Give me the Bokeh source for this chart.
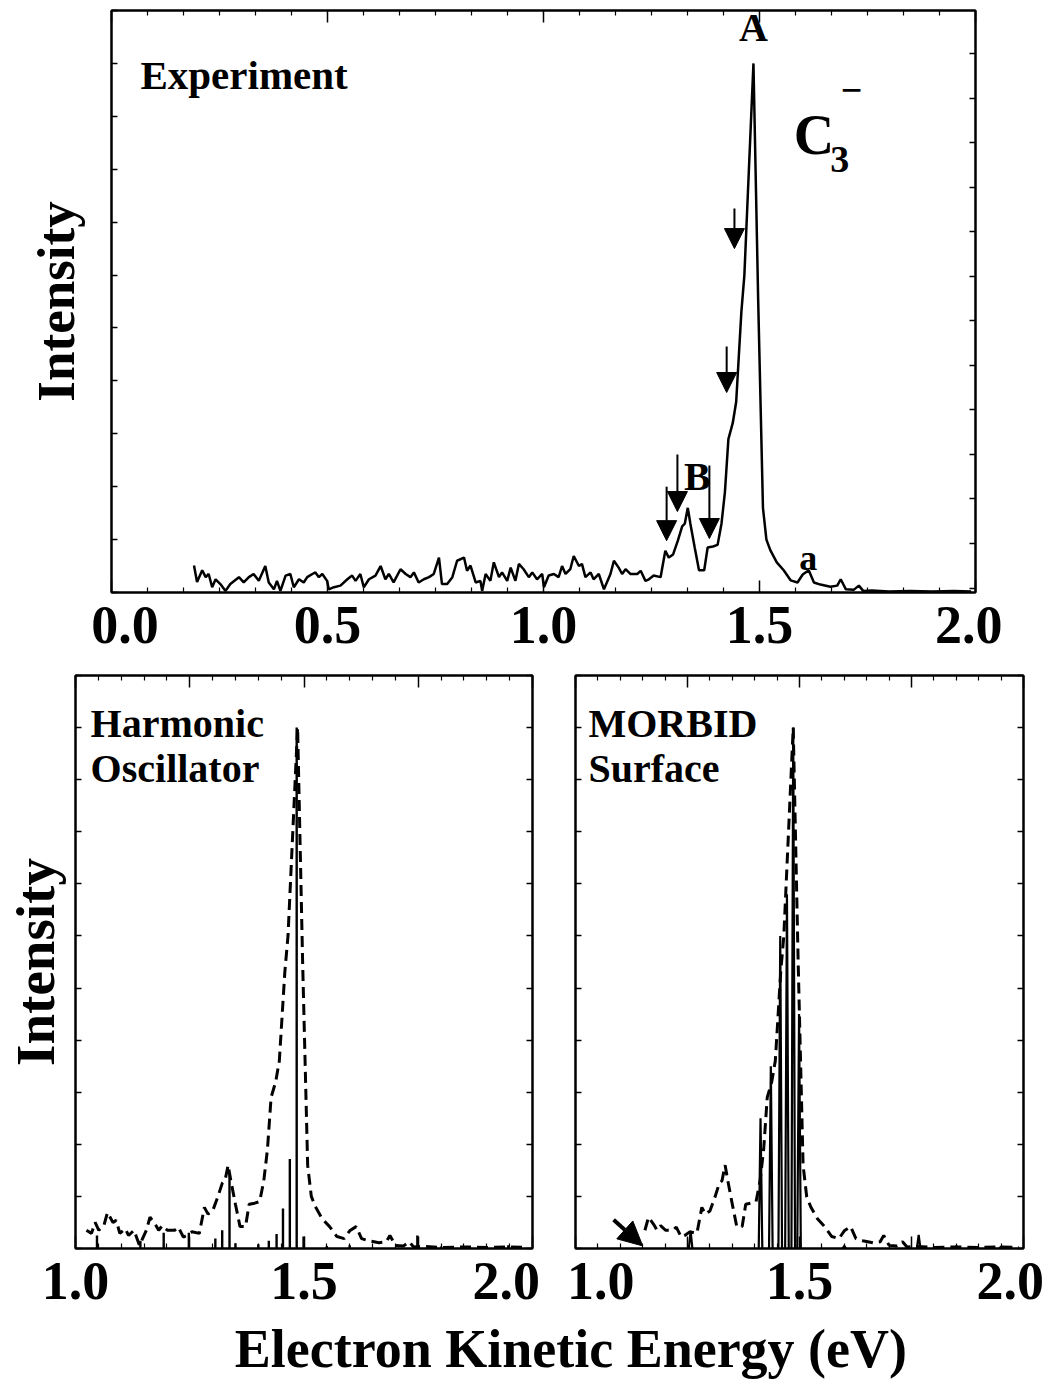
from bokeh.plotting import figure
from bokeh.models import (Range1d, LinearAxis, FixedTicker, Label, Arrow,
                          NormalHead)
from bokeh.layouts import column, row
from bokeh.embed import file_html
from bokeh.resources import INLINE

FONT = "Liberation Serif"

# ---------------- data ----------------
# experimental photoelectron spectrum of C3- (energy in eV, intensity arb.)
exp_e = [0.191, 0.198, 0.210, 0.218, 0.225, 0.233, 0.241, 0.252, 0.264, 0.275,
         0.295, 0.306, 0.318, 0.329, 0.341, 0.356, 0.364, 0.376, 0.383, 0.391,
         0.403, 0.414, 0.422, 0.434, 0.445, 0.453, 0.465, 0.472, 0.480, 0.488,
         0.499, 0.503, 0.515, 0.530, 0.546, 0.557, 0.565, 0.576, 0.584, 0.596,
         0.611, 0.623, 0.634, 0.642, 0.653, 0.669, 0.681, 0.692, 0.700, 0.711,
         0.723, 0.735, 0.746, 0.758, 0.765, 0.777, 0.789, 0.800, 0.816, 0.823,
         0.831, 0.843, 0.854, 0.858, 0.866, 0.877, 0.885, 0.897, 0.904, 0.916,
         0.924, 0.935, 0.943, 0.954, 0.966, 0.974, 0.985, 0.997, 1.001, 1.012,
         1.024, 1.035, 1.043, 1.051, 1.062, 1.070, 1.082, 1.089, 1.097, 1.109,
         1.116, 1.128, 1.140, 1.155, 1.163, 1.174, 1.182, 1.190, 1.201, 1.217,
         1.225, 1.236, 1.244, 1.255, 1.271,
         1.282, 1.290, 1.300, 1.311, 1.321, 1.327, 1.334, 1.340, 1.350, 1.360,
         1.372, 1.380, 1.392, 1.403, 1.412, 1.420, 1.428, 1.438, 1.446, 1.458,
         1.465, 1.486, 1.497, 1.508, 1.516, 1.525, 1.540, 1.556, 1.572, 1.588,
         1.600, 1.614, 1.626, 1.641, 1.664, 1.680, 1.688, 1.700, 1.718, 1.730,
         1.740, 1.760, 1.800, 1.850, 1.900, 1.950, 1.990]
exp_i = [0.51, 0.20, 0.42, 0.29, 0.35, 0.10, 0.25, 0.16, 0.03, 0.16,
         0.29, 0.19, 0.29, 0.35, 0.22, 0.50, 0.19, 0.06, 0.22, 0.03,
         0.32, 0.35, 0.10, 0.25, 0.19, 0.29, 0.35, 0.38, 0.29, 0.35,
         0.22, 0.06, 0.10, 0.13, 0.25, 0.32, 0.22, 0.35, 0.10, 0.25,
         0.32, 0.50, 0.25, 0.35, 0.19, 0.44, 0.35, 0.29, 0.38, 0.19,
         0.25, 0.29, 0.35, 0.66, 0.16, 0.16, 0.29, 0.60, 0.66, 0.41,
         0.51, 0.19, 0.22, 0.03, 0.35, 0.22, 0.57, 0.29, 0.38, 0.22,
         0.47, 0.22, 0.54, 0.44, 0.29, 0.38, 0.25, 0.35, 0.10, 0.32,
         0.35, 0.29, 0.50, 0.35, 0.44, 0.69, 0.50, 0.54, 0.29, 0.38,
         0.25, 0.35, 0.06, 0.35, 0.60, 0.47, 0.35, 0.44, 0.35, 0.35,
         0.41, 0.22, 0.25, 0.32, 0.29,
         0.79, 0.66, 0.72, 0.98, 1.25, 1.30, 1.60, 1.30, 0.85, 0.42,
         0.42, 0.85, 0.87, 0.90, 1.30, 1.90, 2.90, 3.20, 3.60, 5.30,
         6.00, 10.0, 5.50, 1.60, 1.00, 0.80, 0.57, 0.42, 0.23, 0.19,
         0.34, 0.42, 0.19, 0.15, 0.11, 0.13, 0.25, 0.06, 0.05, 0.13,
         0.03, 0.04, 0.02, 0.03, 0.02, 0.03, 0.02]

# harmonic-oscillator stick spectrum
ho_e = [1.047, 1.142, 1.193, 1.248, 1.306, 1.321, 1.337, 1.350, 1.400, 1.423,
        1.440, 1.454, 1.469, 1.484, 1.499, 1.550, 1.600, 1.748, 1.800, 1.850, 1.947]
ho_i = [0.25, 0.15, 0.30, 0.30, 0.19, 0.35, 1.45, 0.10, 0.08, 0.15,
        0.28, 0.77, 1.72, 10.0, 0.23, 0.05, 0.06, 0.25, 0.04, 0.04, 0.06]

# MORBID-surface stick spectrum
mb_e = [1.257, 1.413, 1.436, 1.457, 1.472, 1.486, 1.499, 1.600, 1.766, 1.850, 1.950]
mb_i = [0.33, 2.50, 3.50, 6.00, 6.80, 10.0, 4.50, 0.05, 0.26, 0.05, 0.04]

# arrows marking features in the experimental spectrum
arr_e = [1.442, 1.424, 1.285, 1.310, 1.384]
arr_top = [7.26, 4.65, 2.00, 2.61, 2.40]
arr_tip = [6.50, 3.78, 0.98, 1.53, 1.02]

top_ticks = [0.0, 0.5, 1.0, 1.5, 2.0]
top_tick_labels = ["\u20020.0", "0.5", "1.0", "1.5", "2.0 "]
bot_ticks = [1.0, 1.25, 1.5, 1.75, 2.0]
bl_tick_labels = ["1.0", "", "1.5", "", "2.0\u00a0"]
br_tick_labels = ["\u00a01.0", "", "1.5", "", "2.0 "]


def minor_between(ticks, n):
    out = []
    for a, b in zip(ticks[:-1], ticks[1:]):
        for k in range(1, n):
            out.append(a + (b - a) * k / n)
    return out


def setup_axes(p, xticks, xlabels, nminor, ytop, ylabel=None, ysize="53px",
               ystandoff=20, right_range=None):
    xt = FixedTicker(ticks=xticks, minor_ticks=minor_between(xticks, nminor))
    yt = FixedTicker(ticks=list(range(0, ytop + 1)))
    bx = LinearAxis(ticker=xt)
    bx.major_label_overrides = {t: l for t, l in zip(xticks, xlabels)}
    bx.major_label_text_font = FONT
    bx.major_label_text_font_style = "bold"
    bx.major_label_text_font_size = "54px"
    bx.major_label_text_color = "black"
    bx.major_label_standoff = 2
    ax = LinearAxis(ticker=xt)
    ly = LinearAxis(ticker=yt)
    if right_range is not None:
        p.extra_y_ranges = {"r": right_range}
        ry = LinearAxis(y_range_name="r",
                        ticker=FixedTicker(ticks=list(range(0, 14))))
    else:
        ry = LinearAxis(ticker=yt)
    for a in (ax, ly, ry):
        a.major_label_text_font_size = "1px"
        a.major_label_text_color = None
        a.major_label_standoff = 0
    if ylabel:
        ly.axis_label = ylabel
        ly.axis_label_text_font = FONT
        ly.axis_label_text_font_style = "bold"
        ly.axis_label_text_font_size = ysize
        ly.axis_label_text_color = "black"
        ly.axis_label_standoff = ystandoff
    for a in (bx, ax):
        a.major_tick_in = 12
        a.major_tick_out = 0
        a.minor_tick_in = 5
        a.minor_tick_out = 0
    for a in (ly, ry):
        a.major_tick_in = 6
        a.major_tick_out = 0
        a.minor_tick_line_color = None
    for a in (bx, ax, ly, ry):
        a.axis_line_width = 2
        a.axis_line_color = "black"
        a.major_tick_line_width = 1.5
        a.minor_tick_line_width = 1.2
    p.add_layout(bx, "below")
    p.add_layout(ax, "above")
    p.add_layout(ly, "left")
    p.add_layout(ry, "right")
    p.xgrid.visible = False
    p.ygrid.visible = False
    p.outline_line_color = "black"
    p.outline_line_width = 2


def add_text(p, x, y, text, size, align="left", baseline="alphabetic"):
    p.add_layout(Label(x=x, y=y, text=text, text_font=FONT,
                       text_font_style="bold", text_font_size=size,
                       text_align=align, text_baseline=baseline,
                       text_color="black"))


# ---------------- top panel ----------------
top = figure(width=1057, height=660,
             x_range=Range1d(0, 2.0), y_range=Range1d(0, 11),
             x_axis_location=None, y_axis_location=None, title=None,
             toolbar_location=None, output_backend="svg",
             min_border_left=111, min_border_right=82,
             min_border_top=10, min_border_bottom=68,
             background_fill_color="white", border_fill_color="white")
setup_axes(top, top_ticks, top_tick_labels, 6, 11, ylabel="Intensity",
           ysize="53px", ystandoff=27, right_range=Range1d(-0.1, 12.97))
top.line(exp_e, exp_i, line_color="black", line_width=2.5)

for e, y0, y1 in zip(arr_e, arr_top, arr_tip):
    top.add_layout(Arrow(end=NormalHead(size=20, fill_color="black",
                                        line_color="black", line_width=1),
                         x_start=e, y_start=y0, x_end=e, y_end=y1,
                         line_width=2, line_color="black"))

add_text(top, 0.067, 9.78, "Experiment", "41px")
add_text(top, 1.486, 10.68, "A", "40px", align="center")
add_text(top, 1.356, 2.2, "B", "40px", align="center")
add_text(top, 1.613, 0.65, "a", "36px", align="center")
add_text(top, 1.579, 8.64, "C", "56px")
add_text(top, 1.664, 8.19, "3", "38px")
add_text(top, 1.713, 9.49, "\u2212", "38px", align="center")


# ---------------- bottom panels ----------------
def bottom_fig(left, right, fw):
    return figure(width=left + fw + right, height=654,
                  x_range=Range1d(1.0, 2.0),
                  y_range=Range1d(0, 11), x_axis_location=None,
                  y_axis_location=None, toolbar_location=None, title=None,
                  output_backend="svg", min_border_left=left,
                  min_border_right=right, min_border_top=15,
                  min_border_bottom=66, background_fill_color="white",
                  border_fill_color="white")


bl = bottom_fig(75, 21, 457)
setup_axes(bl, bot_ticks, bl_tick_labels, 5, 11, ylabel="Intensity",
           ysize="55px", ystandoff=10)
bl_e = [e for e in exp_e if e >= 1.02]
bl_i = [i for e, i in zip(exp_e, exp_i) if e >= 1.02]
bl.line(bl_e, bl_i, line_color="black", line_width=3, line_dash="11 6")
bl.segment(x0=ho_e, y0=[0] * len(ho_e), x1=ho_e, y1=ho_i,
           line_color="black", line_width=2.4)
add_text(bl, 1.033, 10.08, "Harmonic", "40px")
add_text(bl, 1.033, 9.21, "Oscillator", "40px")

br = bottom_fig(22, 34, 448)
setup_axes(br, bot_ticks, br_tick_labels, 5, 11)
br_e = [e for e in exp_e if e >= 1.15]
br_i = [i for e, i in zip(exp_e, exp_i) if e >= 1.15]
br.line(br_e, br_i, line_color="black", line_width=3, line_dash="11 6")
w = 0.004
br.multi_line(xs=[[e - w, e, e + w] for e in mb_e],
              ys=[[0, h, 0] for h in mb_i],
              line_color="black", line_width=2.2)
br.add_layout(Arrow(end=NormalHead(size=24, fill_color="black",
                                   line_color="black"),
                    x_start=1.085, y_start=0.55, x_end=1.15, y_end=0.05,
                    line_width=4, line_color="black"))
add_text(br, 1.029, 10.08, "MORBID", "40px")
add_text(br, 1.029, 9.21, "Surface", "40px")

# ---------------- common x label ----------------
lab = figure(width=1057, height=68, x_range=Range1d(0, 1057),
             y_range=Range1d(0, 68), x_axis_location=None,
             y_axis_location=None, toolbar_location=None, title=None,
             output_backend="svg", min_border=0, outline_line_color=None,
             background_fill_color="white", border_fill_color="white")
lab.xgrid.visible = False
lab.ygrid.visible = False
add_text(lab, 562, 34, "Electron Kinetic Energy (eV)", "54px", align="center",
         baseline="middle")

layout = column(top, row(bl, br), lab)
open("out.html", "w").write(file_html(layout, INLINE))
